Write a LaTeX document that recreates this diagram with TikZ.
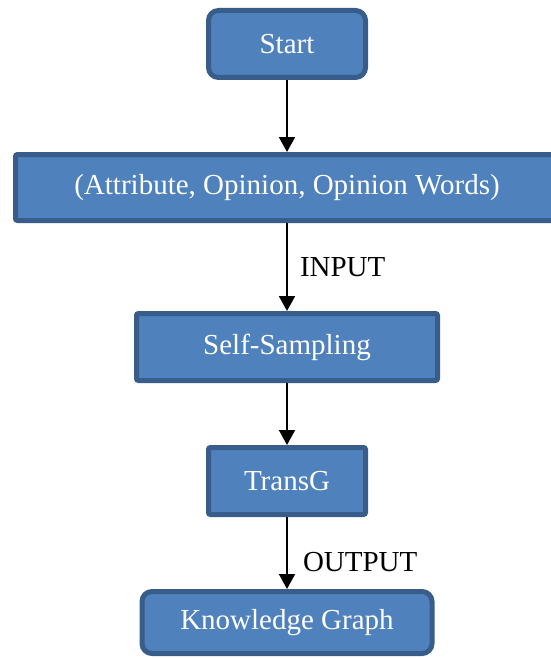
\documentclass[tikz,border=0pt]{standalone}
\usepackage{fontspec}
\setmainfont{Liberation Serif}
\newfontfamily\boxfont{Liberation Serif}
\usepackage{tikz}
\usetikzlibrary{arrows.meta,positioning}
\definecolor{boxfill}{HTML}{4F81BD}
\definecolor{boxline}{HTML}{385D8A}
\tikzstyle{block}=[draw=boxline,fill=boxfill,line width=2.5pt,text=white,rounded corners=1pt,minimum height=33.5pt,inner sep=0pt]
\tikzstyle{terminal}=[block,rounded corners=5pt]
\tikzstyle{flow}=[line width=1pt,-{Triangle[width=8pt,length=7.5pt]}]
\tikzstyle{tag}=[inner sep=0pt,text=black]

\begin{document}
\begin{tikzpicture}[node distance=36pt,font=\boxfont\fontsize{14.5}{17}\selectfont]
\useasboundingbox (0,0) rectangle (275.5pt,-329pt);
\node [terminal,minimum width=78.5pt] (start) at (143.5pt,-22pt) {Start};
\node [block,minimum width=271.5pt,minimum height=33pt,below=of start] (triple) {(Attribute, Opinion, Opinion Words)};
\node [block,minimum width=150.5pt,below=44pt of triple] (sampling) {Self-Sampling};
\node [block,minimum width=78.5pt,below=31pt of sampling] (transg) {TransG};
\node [terminal,minimum width=145pt,minimum height=31pt,below=of transg] (kg) {Knowledge Graph};
\draw [flow] (start) -- (triple);
\draw [flow] (triple) -- node [tag,right=6pt] {INPUT} (sampling);
\draw [flow] (sampling) -- (transg);
\draw [flow] (transg) -- node [tag,pos=0.625,right=7.5pt] {OUTPUT} (kg);
\end{tikzpicture}
\end{document}
